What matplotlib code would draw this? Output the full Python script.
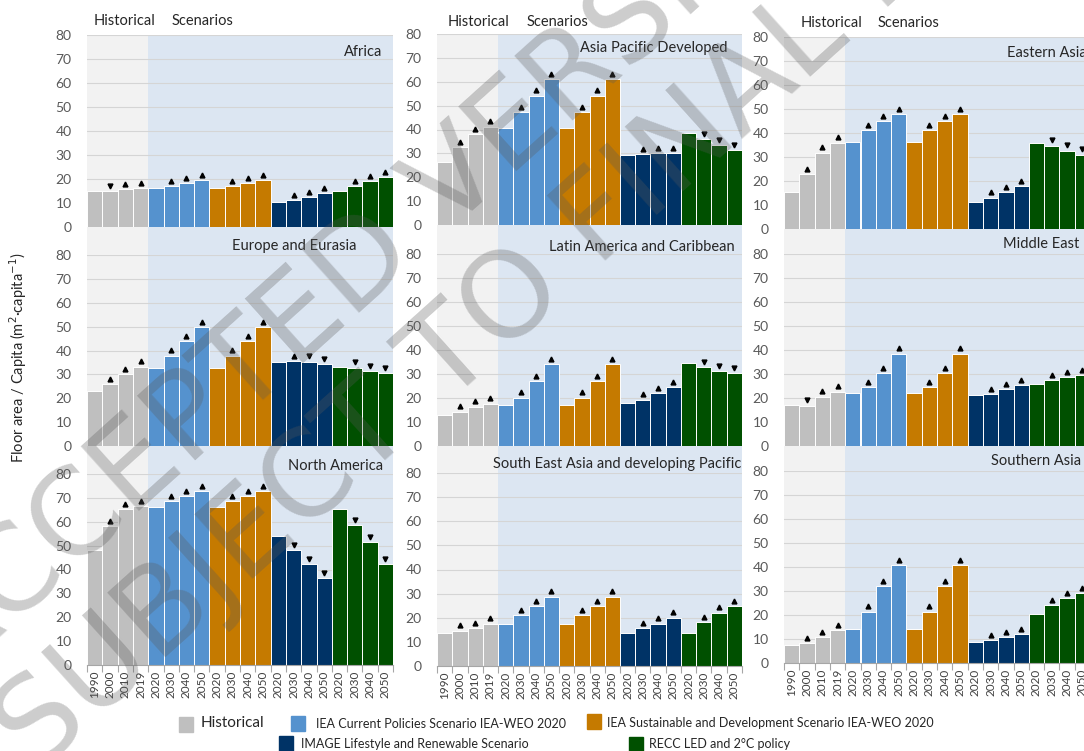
import numpy as np
import matplotlib
matplotlib.use("Agg")
import matplotlib.pyplot as plt
from matplotlib.patches import Rectangle

plt.rcParams['font.family'] = ['Lato', 'DejaVu Sans']

# --- data ---
regions = ["Africa", "Asia Pacific Developed", "Eastern Asia",
           "Europe and Eurasia", "Latin America and Caribbean", "Middle East",
           "North America", "South East Asia and developing Pacific", "Southern Asia"]

hist_years = ["1990", "2000", "2010", "2019"]
scen_years = ["2020", "2030", "2040", "2050"]
tick_labels = hist_years + scen_years * 4

series_names = ["Historical",
                "IEA Current Policies Scenario IEA-WEO 2020",
                "IEA Sustainable and Development Scenario IEA-WEO 2020",
                "IMAGE Lifestyle and Renewable Scenario",
                "RECC LED and 2°C policy"]
series_colors = ["#BFBFBF", "#5592CE", "#C57A00", "#003366", "#005000"]

historical = [[15.0, 14.9, 15.8, 16.3],
              [26.3, 32.7, 38.1, 41.2],
              [15.3, 22.9, 31.8, 36.0],
              [22.9, 25.9, 30.0, 33.2],
              [12.9, 14.3, 16.4, 17.6],
              [17.2, 16.8, 20.6, 22.6],
              [48.0, 58.3, 65.4, 66.7],
              [13.7, 14.6, 15.8, 17.5],
              [7.5, 8.3, 10.8, 13.7]]
iea_cps = [[16.3, 17.1, 18.4, 19.6],
           [40.8, 47.4, 54.2, 61.0],
           [36.4, 41.1, 44.9, 47.9],
           [32.8, 37.9, 43.8, 49.8],
           [17.2, 20.1, 26.9, 34.2],
           [22.2, 24.4, 30.3, 38.5],
           [66.2, 68.5, 70.6, 72.7],
           [17.5, 21.0, 24.8, 28.7],
           [14.2, 21.4, 32.1, 40.7]]
iea_sds = [[16.3, 17.1, 18.4, 19.6],
           [40.8, 47.4, 54.2, 61.0],
           [36.4, 41.1, 44.9, 47.9],
           [32.8, 37.9, 43.8, 49.8],
           [17.2, 20.1, 26.9, 34.2],
           [22.2, 24.4, 30.3, 38.5],
           [66.2, 68.5, 70.6, 72.7],
           [17.5, 21.0, 24.8, 28.7],
           [14.2, 21.4, 32.1, 40.7]]
image_lr = [[10.3, 11.1, 12.4, 14.0],
            [29.3, 29.8, 30.1, 30.2],
            [11.4, 13.1, 15.3, 17.8],
            [35.2, 35.4, 35.3, 34.4],
            [18.1, 19.3, 21.9, 24.4],
            [21.1, 21.5, 23.6, 25.3],
            [53.9, 48.0, 42.4, 36.4],
            [13.7, 15.8, 17.5, 20.0],
            [8.8, 9.6, 10.8, 12.1]]
recc_led = [[14.9, 17.1, 19.2, 20.9],
            [38.6, 36.1, 33.4, 31.3],
            [36.0, 34.7, 32.6, 31.0],
            [33.2, 32.8, 31.5, 30.5],
            [34.6, 32.9, 31.1, 30.3],
            [25.7, 27.4, 28.8, 29.6],
            [65.4, 58.7, 51.4, 42.4],
            [13.7, 18.3, 22.1, 24.8],
            [20.3, 24.0, 27.1, 29.2]]
all_series = [historical, iea_cps, iea_sds, image_lr, recc_led]

# --- layout (pixels of the 1084x751 canvas) ---
W, H = 1084, 751
def fx(px):
    return px / W
def fy(py):
    return 1 - py / H

col_x = [(87, 393), (437, 742), (784, 1090)]
row_y = [[(35, 227), (255, 446), (474, 665)],
         [(34, 225), (254, 446), (473, 666)],
         [(37, 229), (254, 446), (471, 663)]]
title_xy = [[(382, 52), (357, 246), (383, 466)],
            [(728, 48), (735, 247), (741, 464)],
            [(1087, 53), (1079, 244), (1081, 461)]]
header_x = [(94, 172), (448, 527), (801, 878)]
header_y = [21, 22, 23]

fig = plt.figure(figsize=(W / 100, H / 100), dpi=100)

txt = "#262626"
grid_c = "#D5D5D5"
n_bars = len(tick_labels)

for c in range(3):
    x0, x1 = col_x[c]
    top = row_y[c][0][0]
    bot = row_y[c][2][1]
    # shaded backdrop for the whole column
    bg = fig.add_axes([fx(x0), fy(bot), (x1 - x0) / W, (bot - top) / H], zorder=0)
    bg.set_xlim(-0.5, n_bars - 0.5)
    bg.axvspan(-0.5, 3.5, color="#F2F2F2", lw=0)
    bg.axvspan(3.5, n_bars - 0.5, color="#DCE6F2", lw=0)
    bg.axis("off")

    fig.text(fx(header_x[c][0]), fy(header_y[c]), "Historical", fontsize=10.5,
             color=txt, ha="left", va="center")
    fig.text(fx(header_x[c][1]), fy(header_y[c]), "Scenarios", fontsize=10.5,
             color=txt, ha="left", va="center")

    for r in range(3):
        k = r * 3 + c
        yt, yb = row_y[c][r]
        ax = fig.add_axes([fx(x0), fy(yb), (x1 - x0) / W, (yb - yt) / H], zorder=1)
        ax.set_facecolor("none")
        vals, cols, marks = [], [], []
        for s, ser in enumerate(all_series):
            v = ser[k]
            for i, val in enumerate(v):
                vals.append(val)
                cols.append(series_colors[s])
                if i == 0:
                    marks.append(None)
                else:
                    marks.append("^" if val > v[i - 1] else "v")
        xs = np.arange(n_bars)
        ax.bar(xs, vals, width=1.0, color=cols, edgecolor="white",
               linewidth=0.7, zorder=2)
        for xi, val, m in zip(xs, vals, marks):
            if m:
                ax.plot(xi, val + 2.2, marker=m, ms=3.5, color="black",
                        ls="none", zorder=3, clip_on=False)
        ax.set_xlim(-0.5, n_bars - 0.5)
        ax.set_ylim(0, 80)
        ax.set_yticks(range(0, 81, 10))
        ax.yaxis.grid(True, color=grid_c, lw=0.8, zorder=1)
        ax.set_axisbelow(True)
        ax.tick_params(axis="y", length=0, pad=11, labelsize=10, labelcolor="#595959")
        for sp in ax.spines.values():
            sp.set_visible(False)
        if r == 2:
            ax.set_xticks(xs)
            ax.set_xticklabels(tick_labels, rotation=90, fontsize=8.5, color="#404040")
            ax.set_xticks(np.arange(-0.5, n_bars, 1), minor=True)
            ax.tick_params(axis="x", which="major", length=0, pad=4)
            ax.tick_params(axis="x", which="minor", length=5, color="#A6A6A6", width=0.8)
            ax.spines["bottom"].set_visible(True)
            ax.spines["bottom"].set_color("#A6A6A6")
        else:
            ax.set_xticks([])
        tx, ty = title_xy[c][r]
        fig.text(fx(tx), fy(ty), regions[k], fontsize=10.5, color=txt,
                 ha="right", va="center", zorder=5)

fig.text(fx(18), fy(358), "Floor area / Capita (m$^2$·capita$^{-1}$)",
         rotation=90, ha="center", va="center", fontsize=10.5, color=txt)

# legend
legend_items = [(0, 179, 717, 201, 723, 11),
                (1, 291, 716, 316, 724, 9),
                (2, 587, 714, 607, 723, 9),
                (3, 279, 736, 301, 744, 9),
                (4, 629, 737, 649, 744, 9)]
for s, px, py, tx, ty, fsz in legend_items:
    fig.patches.append(Rectangle((fx(px), fy(py + 15)), 14 / W, 15 / H,
                                 transform=fig.transFigure,
                                 color=series_colors[s], zorder=4))
    fig.text(fx(tx), fy(ty), series_names[s], fontsize=fsz, color=txt,
             ha="left", va="center")

# draft watermark
wm = dict(rotation=42, rotation_mode="anchor", ha="center", va="center",
          fontsize=86, color="#595959", alpha=0.3, family="DejaVu Sans", zorder=10)
fig.text(fx(374), fy(255), "ACCEPTED VERSION", **wm)
fig.text(fx(566), fy(252), "SUBJECT TO FINAL EDITS", **wm)

fig.savefig("out.png", dpi=100)
